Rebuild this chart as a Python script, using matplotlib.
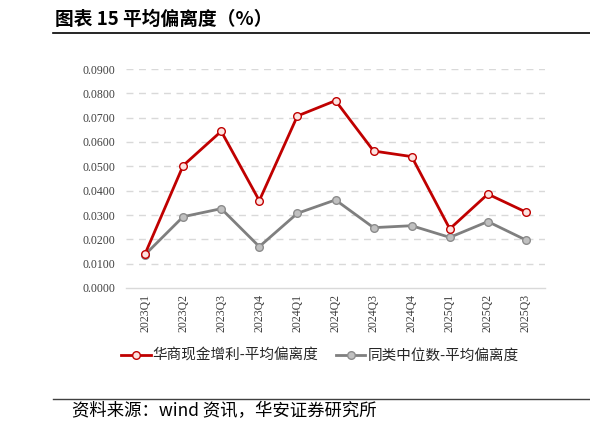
import matplotlib
matplotlib.use("Agg")
import matplotlib.pyplot as plt
import numpy as np

categories = ["2023Q1", "2023Q2", "2023Q3", "2023Q4", "2024Q1", "2024Q2",
              "2024Q3", "2024Q4", "2025Q1", "2025Q2", "2025Q3"]
fund_values = [0.0140, 0.0503, 0.0644, 0.0359, 0.0707, 0.0770,
               0.0563, 0.0540, 0.0243, 0.0386, 0.0312]
peer_values = [0.0137, 0.0293, 0.0326, 0.0170, 0.0307, 0.0362,
               0.0248, 0.0256, 0.0208, 0.0273, 0.0197]
series_names = ["华商现金增利-平均偏离度", "同类中位数-平均偏离度"]
yticks = [0.0, 0.01, 0.02, 0.03, 0.04, 0.05, 0.06, 0.07, 0.08, 0.09]

cjk = ["Noto Sans CJK SC", "DejaVu Sans"]
plt.rcParams['font.family'] = cjk

W, H = 590, 432
fig = plt.figure(figsize=(W / 100, H / 100), dpi=100)
ax = fig.add_axes([126 / W, 1 - 288 / H, (545 - 126) / W, (288 - 69) / H])

x = np.arange(len(categories))
ax.plot(x, fund_values, color="#C00000", lw=2.0, marker="o", ms=5.5,
        mfc="#FDE3E0", mec="#C00000", mew=1.0, label=series_names[0], zorder=4)
ax.plot(x, peer_values, color="#7F7F7F", lw=2.0, marker="o", ms=5.5,
        mfc="#C0C0C0", mec="#8C8C8C", mew=1.0, label=series_names[1], zorder=3)

ax.set_xlim(-0.5, len(categories) - 0.5)
ax.set_ylim(0, 0.09)
ax.set_yticks(yticks)
ax.set_yticklabels([f"{v:.4f}" for v in yticks], family="Liberation Serif",
                   fontsize=8.5, color="#404040")
ax.set_xticks(x)
ax.set_xticklabels(categories, rotation=90, family="Liberation Serif",
                   fontsize=8.5, color="#404040")
ax.tick_params(axis="y", length=0, pad=8)
ax.tick_params(axis="x", length=0, pad=4)
for v in yticks[1:]:
    ax.axhline(v, color="#D9D9D9", lw=1.0, ls=(0, (5, 4)), zorder=1)
for s in ["top", "right", "left"]:
    ax.spines[s].set_visible(False)
ax.spines["bottom"].set_color("#D9D9D9")
ax.spines["bottom"].set_linewidth(1.0)

leg = fig.legend(loc="center", bbox_to_anchor=(320 / W, 1 - 356 / H), ncol=2,
                 frameon=False, fontsize=10.5, handlelength=2.0, columnspacing=1.2,
                 handletextpad=0.15)
for t in leg.get_texts():
    t.set_color("#262626")

# Title
fig.text(55 / W, 1 - 19 / H, "图表 15 平均偏离度（%）", fontsize=13.5, fontweight="bold",
         va="center", ha="left", family=cjk, color="#000000")
fig.add_artist(plt.Line2D([53 / W, 1.0], [1 - 33 / H, 1 - 33 / H], color="black", lw=1.2))

# Source line
fig.add_artist(plt.Line2D([53 / W, 1.0], [1 - 399 / H, 1 - 399 / H], color="#404040", lw=1.0))
fig.text(72 / W, 1 - 411 / H, "资料来源：wind 资讯，华安证券研究所", fontsize=12.5,
         va="center", ha="left", family=cjk, color="#000000")

fig.savefig("out.png", dpi=100)
